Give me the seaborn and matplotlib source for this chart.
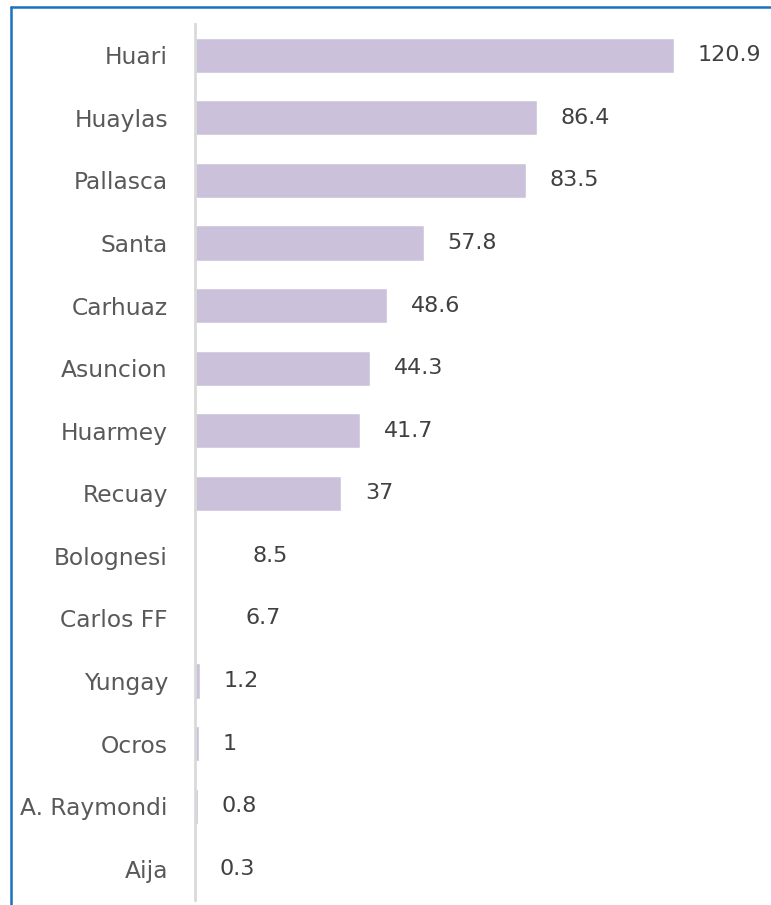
import matplotlib
matplotlib.use("Agg")
import matplotlib.pyplot as plt
import seaborn as sns
from matplotlib.lines import Line2D

# datos
provincias = ["Huari", "Huaylas", "Pallasca", "Santa", "Carhuaz", "Asuncion", "Huarmey",
              "Recuay", "Bolognesi", "Carlos FF", "Yungay", "Ocros", "A. Raymondi", "Aija"]
valores = [120.9, 86.4, 83.5, 57.8, 48.6, 44.3, 41.7, 37, 8.5, 6.7, 1.2, 1, 0.8, 0.3]
etiquetas = ["120.9", "86.4", "83.5", "57.8", "48.6", "44.3", "41.7", "37", "8.5", "6.7",
             "1.2", "1", "0.8", "0.3"]

# en la imagen original Bolognesi y Carlos FF no muestran barra
morado = "#cbc1db"
colores = [morado] * 8 + ["white", "white"] + [morado] * 4

sns.set_style("white")
plt.rcParams["font.family"] = ["DejaVu Sans"]

fig = plt.figure(figsize=(7.71, 9.05), dpi=100)
ax = fig.add_axes([195 / 771, 1 - 900 / 905, 1 - 195 / 771, (900 - 24) / 905])

sns.barplot(x=valores, y=provincias, hue=provincias, palette=colores, legend=False,
            width=0.56, saturation=1, orient="h", ax=ax)

for cont, lab in zip(ax.containers, etiquetas):
    ax.bar_label(cont, labels=[lab], padding=17, fontsize=16, color="#404040")

ax.set_xlim(0, 145.5)
ax.set_ylim(13.5, -0.5)
ax.set_xlabel("")
ax.set_ylabel("")
ax.set_xticks([])
ax.tick_params(axis="y", length=0, pad=19.5, labelsize=16.8, labelcolor="#595959")
for s in ["top", "right", "bottom"]:
    ax.spines[s].set_visible(False)
ax.spines["left"].set_color("#d9d9d9")
ax.spines["left"].set_linewidth(2)

# borde azul del gráfico
azul = "#1b70c0"
fig.add_artist(Line2D([11 / 771, 1], [1 - 7 / 905, 1 - 7 / 905], color=azul, lw=1.8,
                      transform=fig.transFigure))
fig.add_artist(Line2D([11 / 771, 11 / 771], [0, 1 - 7 / 905], color=azul, lw=1.8,
                      transform=fig.transFigure))

fig.savefig("out.png", dpi=100)
